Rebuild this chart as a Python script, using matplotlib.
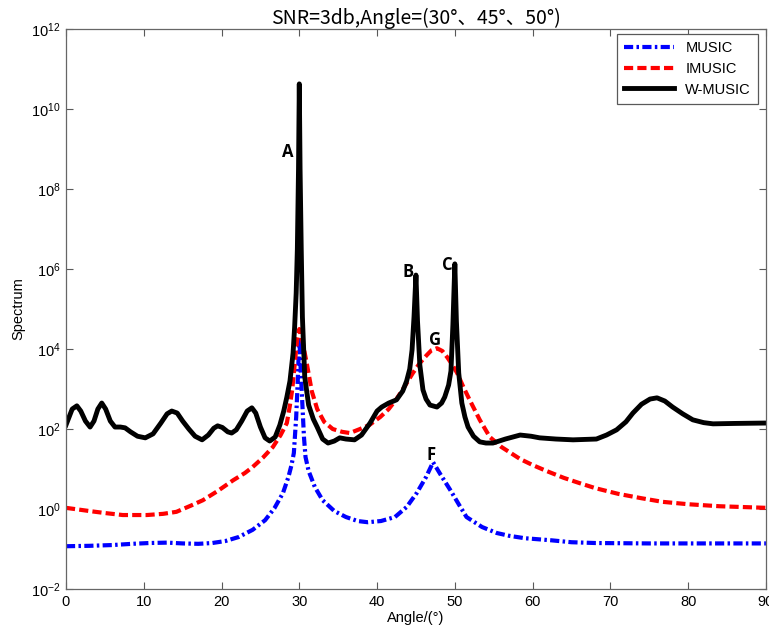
import numpy as np
import matplotlib
matplotlib.use("Agg")
import matplotlib.pyplot as plt
from matplotlib.ticker import FixedLocator, LogFormatterMathtext, NullLocator

plt.rcParams['font.family'] = ['Liberation Sans', 'DejaVu Sans']
plt.rcParams['mathtext.fontset'] = 'custom'
plt.rcParams['mathtext.rm'] = 'Liberation Sans'
plt.rcParams['mathtext.it'] = 'Liberation Sans:italic'

# W-MUSIC (black), angles in degrees, values as log10(spectrum)
wmusic_angle = [0, 0.4, 0.8, 1.4, 1.9, 2.5, 3.1, 3.6, 4.1, 4.6, 5.1, 5.7, 6.3, 7.0, 7.6,
                8.3, 9.2, 10.2, 11.2, 12.2, 13.0, 13.6, 14.3, 15.0, 15.8, 16.6, 17.5,
                18.3, 19.0, 19.5, 20.1, 20.8, 21.3, 21.9, 22.6, 23.3, 23.9, 24.4, 25.0,
                25.6, 26.2, 26.9, 27.5, 28.0, 28.4, 28.8, 29.2, 29.4, 29.6, 29.75, 29.9,
                30.0, 30.1, 30.25, 30.4, 30.7, 31.2, 31.8, 32.3, 33.0, 33.7, 34.5, 35.2,
                36.0, 37.1, 38.0, 39.1, 40.0, 40.6, 41.5, 42.5, 43.3, 43.8, 44.2, 44.5,
                44.75, 45.0, 45.2, 45.5, 45.9, 46.3, 46.8, 47.7, 48.3, 48.7, 49.2, 49.5,
                49.75, 50.0, 50.2, 50.5, 50.9, 51.3, 51.7, 52.4, 53.2, 54.0, 54.9, 56.5,
                58.4, 59.8, 60.9, 63.0, 65.2, 68.2, 69.5, 70.8, 72.0, 72.9, 74.0, 75.1,
                76.0, 77.0, 78.0, 79.3, 80.6, 82.0, 83.2, 86.0, 90.0]
wmusic_log = [2.1, 2.3, 2.5, 2.58, 2.45, 2.2, 2.05, 2.2, 2.5, 2.65, 2.5, 2.2, 2.05, 2.05, 2.03,
              1.93, 1.82, 1.78, 1.88, 2.15, 2.38, 2.45, 2.4, 2.2, 2.0, 1.82, 1.73,
              1.85, 2.02, 2.08, 2.04, 1.93, 1.9, 1.98, 2.2, 2.45, 2.53, 2.4, 2.05,
              1.78, 1.7, 1.8, 2.1, 2.45, 2.8, 3.2, 3.9, 4.55, 5.4, 6.5, 8.5,
              10.63, 8.5, 6.5, 4.8, 3.3, 2.6, 2.25, 2.05, 1.75, 1.65, 1.7, 1.78,
              1.75, 1.73, 1.85, 2.15, 2.45, 2.55, 2.65, 2.73, 2.95, 3.2, 3.5, 3.98,
              4.8, 5.85, 4.7, 3.6, 2.98, 2.75, 2.6, 2.55, 2.65, 2.8, 3.1, 3.45,
              4.6, 6.13, 4.7, 3.4, 2.65, 2.3, 2.05, 1.82, 1.68, 1.65, 1.65, 1.75,
              1.85, 1.82, 1.78, 1.75, 1.73, 1.75, 1.85, 1.98, 2.18, 2.4, 2.62, 2.75,
              2.78, 2.7, 2.55, 2.38, 2.23, 2.16, 2.13, 2.14, 2.15]

# IMUSIC (red)
imusic_angle = [0, 3, 5, 7.3, 10.4, 12.5, 14.2, 16, 17.6, 19.5, 21.5, 23, 24, 25.3, 26.6,
                27.6, 28.4, 28.8, 29.1, 29.4, 29.7, 30.0, 30.3, 30.5, 31.0, 31.6, 32.3,
                33.2, 34.3, 35.5, 36.5, 37.8, 39.0, 40.4, 41.5, 42.5, 43.5, 44.6, 45.5,
                46.4, 47.0, 47.7, 48.4, 49.0, 49.7, 50.3, 51.1, 51.9, 53.2, 54.5, 56.0,
                58.4, 60, 61.8, 64, 66, 68.1, 71, 74, 76.7, 80, 84, 90]
imusic_log = [0.03, -0.05, -0.1, -0.15, -0.15, -0.12, -0.07, 0.08, 0.22, 0.45, 0.72, 0.9, 1.05, 1.28, 1.55,
              1.85, 2.15, 2.6, 3.0, 3.6, 4.2, 4.5, 4.3, 4.1, 3.6, 2.95, 2.5,
              2.18, 2.0, 1.93, 1.9, 2.0, 2.1, 2.3, 2.5, 2.75, 3.05, 3.4, 3.65,
              3.85, 3.97, 4.02, 3.95, 3.8, 3.6, 3.4, 3.05, 2.73, 2.23, 1.8, 1.55,
              1.25, 1.1, 0.95, 0.78, 0.65, 0.52, 0.38, 0.27, 0.18, 0.12, 0.07, 0.03]

# MUSIC (blue)
music_angle = [0, 3, 6, 8.5, 10.7, 13, 15, 17, 18.8, 20.5, 22.2, 24, 25.6, 26.8, 27.9,
               28.6, 29.0, 29.3, 29.6, 29.8, 30.0, 30.2, 30.4, 30.6, 30.8, 31.2, 32.0,
               33.0, 34.5, 36.0, 37.5, 38.8, 40.5, 42.3, 43.8, 45.1, 46.3, 47.2, 48.2,
               49.4, 50.5, 51.5, 53.5, 55.4, 57, 59, 62.3, 65, 68.1, 75, 90]
music_log = [-0.93, -0.92, -0.9, -0.87, -0.85, -0.84, -0.86, -0.87, -0.85, -0.8, -0.7, -0.52, -0.28, 0.02, 0.4,
             0.8, 1.1, 1.4, 2.3, 3.2, 4.3, 3.4, 2.6, 1.8, 1.3, 0.95, 0.55,
             0.22, -0.05, -0.2, -0.3, -0.33, -0.3, -0.2, 0.05, 0.4, 0.8, 1.17, 0.85,
             0.48, 0.12, -0.2, -0.45, -0.6, -0.67, -0.73, -0.78, -0.83, -0.85, -0.86, -0.86]

# peak labels: (text, angle, log10 value)
labels = [("A", 28.5, 8.93), ("B", 44.0, 5.93), ("C", 49.0, 6.1),
          ("G", 47.4, 4.22), ("F", 47.0, 1.35)]

fig = plt.figure(figsize=(7.69, 6.32), dpi=100)
ax = fig.add_axes([0.0858, 0.068, 0.9102, 0.886])

line_kw = dict(solid_joinstyle='round', dash_joinstyle='round')
ax.semilogy(music_angle, 10 ** np.array(music_log), color='#0000ff', lw=3,
            dashes=(2.2, 0.8, 0.6, 0.8), label='MUSIC', **line_kw)
ax.semilogy(imusic_angle, 10 ** np.array(imusic_log), color='#ff0000', lw=3,
            dashes=(2.2, 1.0), label='IMUSIC', **line_kw)
ax.semilogy(wmusic_angle, 10 ** np.array(wmusic_log), color='black', lw=3.5,
            label='W-MUSIC', **line_kw)

for txt, a, v in labels:
    ax.text(a, 10 ** v, txt, ha='center', va='center', fontsize=12,
            fontweight='bold', family=['Open Sans', 'DejaVu Sans'])

ax.set_xlim(0, 90)
ax.set_ylim(1e-2, 1e12)
ax.set_xticks(range(0, 91, 10))
ax.yaxis.set_major_locator(FixedLocator([10.0 ** k for k in range(-2, 13, 2)]))
ax.yaxis.set_major_formatter(LogFormatterMathtext())
ax.yaxis.set_minor_locator(NullLocator())

ax.tick_params(direction='in', top=True, right=True, length=5, width=0.8,
               color='0.35', labelsize=10.5, pad=4)
for sp in ax.spines.values():
    sp.set_color('0.4')
    sp.set_linewidth(0.9)

ax.set_xlabel('Angle/(°)', fontsize=10.5, labelpad=2)
ax.set_ylabel('Spectrum', fontsize=10.5, labelpad=4)
ax.set_title('SNR=3db,Angle=(30°、45°、50°)', fontsize=14, pad=4,
             family=['Noto Sans CJK SC', 'DejaVu Sans'])

leg = ax.legend(loc='upper right', bbox_to_anchor=(0.989, 0.991), borderaxespad=0,
                fancybox=False, framealpha=1, edgecolor='0.35', fontsize=10.5,
                handlelength=3.4, labelspacing=0.45, borderpad=0.5)
leg.get_frame().set_linewidth(0.9)

fig.savefig('out.png', dpi=100)
